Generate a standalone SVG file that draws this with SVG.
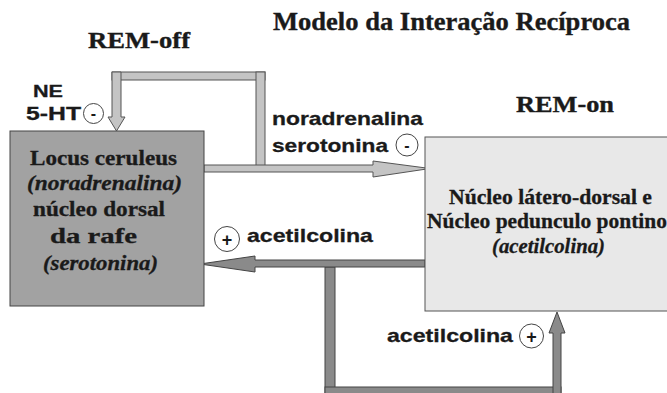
<svg xmlns="http://www.w3.org/2000/svg" width="667" height="393" viewBox="0 0 667 393">
<style>
.circ{fill:#fff;stroke:#444;stroke-width:1}
.lt{fill:#c4c4c4;stroke:#555;stroke-width:1}
.dk{fill:#8a8a8a;stroke:#444;stroke-width:1}
</style>
<rect width="667" height="393" fill="#fff"/>
<g font-family="Liberation Serif, Times New Roman, serif" font-weight="700" fill="#1a1a1a" stroke="#1a1a1a" stroke-width="0.35">
<text x="273" y="30" font-size="25" textLength="357" lengthAdjust="spacingAndGlyphs">Modelo da Interação Recíproca</text>
<text x="88" y="48" font-size="23" textLength="102" lengthAdjust="spacingAndGlyphs">REM-off</text>
<text x="516" y="112" font-size="23" textLength="98" lengthAdjust="spacingAndGlyphs">REM-on</text>
</g>
<g id="connectors">
<rect class="lt" x="112" y="72" width="153" height="8"/>
<polygon class="lt" points="112,72 121,72 121,117 125,117 116.5,131 108,117 112,117"/>
<rect class="lt" x="256" y="72" width="9" height="94"/>
<polygon class="lt" points="204,165 373,165 373,161 430,168.5 373,177 373,172 204,172"/>
<rect class="dk" x="325" y="267" width="10" height="130"/>
<rect class="dk" x="325" y="387" width="236" height="10"/>
<polygon class="dk" points="553,397 553,333 549,333 557,312 565,333 561,333 561,397"/>
<polygon class="dk" points="425,260 255,260 255,256 200,264 255,272 255,267 425,267"/>
</g>
<g id="remoff" font-family="Liberation Serif, Times New Roman, serif" font-weight="700" font-size="20" fill="#1a1a1a">
<rect x="10" y="131" width="194" height="175" fill="#a2a2a2" stroke="#444" stroke-width="1"/>
<g stroke="#1a1a1a" stroke-width="0.3">
<text x="30" y="165" textLength="147" lengthAdjust="spacingAndGlyphs">Locus ceruleus</text>
<text x="27" y="190" font-style="italic" textLength="155" lengthAdjust="spacingAndGlyphs">(noradrenalina)</text>
<text x="33" y="216" textLength="132" lengthAdjust="spacingAndGlyphs">núcleo dorsal</text>
<text x="50" y="243" textLength="87" lengthAdjust="spacingAndGlyphs">da rafe</text>
<text x="43" y="270" font-style="italic" textLength="115" lengthAdjust="spacingAndGlyphs">(serotonina)</text>
</g>
</g>
<g id="remon" font-family="Liberation Serif, Times New Roman, serif" font-weight="700" font-size="20" fill="#1a1a1a">
<rect x="425" y="137" width="250" height="174" fill="#e8e8e8" stroke="#555" stroke-width="1"/>
<g stroke="#1a1a1a" stroke-width="0.3">
<text x="449" y="204" textLength="203" lengthAdjust="spacingAndGlyphs">Núcleo látero-dorsal e</text>
<text x="427" y="228" textLength="240" lengthAdjust="spacingAndGlyphs">Núcleo pedunculo pontino</text>
<text x="492" y="253" font-style="italic" textLength="113" lengthAdjust="spacingAndGlyphs">(acetilcolina)</text>
</g>
</g>
<g font-family="Liberation Sans, Arial, sans-serif" font-weight="700" font-size="19" fill="#1a1a1a">
<g id="label-ne">
<text x="33" y="97" font-size="16" stroke="#1a1a1a" stroke-width="0.3" textLength="30" lengthAdjust="spacingAndGlyphs">NE</text>
<text x="26" y="120" font-size="18" stroke="#1a1a1a" stroke-width="0.3" textLength="55" lengthAdjust="spacingAndGlyphs">5-HT</text>
<circle class="circ" cx="93.5" cy="113.5" r="10"/>
<text x="93.5" y="119" font-size="16" text-anchor="middle">-</text>
</g>
<g id="label-noradr">
<text x="272" y="125" stroke="#1a1a1a" stroke-width="0.3" textLength="151" lengthAdjust="spacingAndGlyphs">noradrenalina</text>
<text x="272" y="152" stroke="#1a1a1a" stroke-width="0.3" textLength="116" lengthAdjust="spacingAndGlyphs">serotonina</text>
<circle class="circ" cx="407" cy="145" r="11"/>
<text x="407" y="151" font-size="16" text-anchor="middle">-</text>
</g>
<g id="label-ach1">
<circle class="circ" cx="227" cy="239" r="12.5"/>
<text x="227" y="245.5" font-size="18" text-anchor="middle">+</text>
<text x="247" y="242" stroke="#1a1a1a" stroke-width="0.3" textLength="126" lengthAdjust="spacingAndGlyphs">acetilcolina</text>
</g>
<g id="label-ach2">
<text x="387" y="342" stroke="#1a1a1a" stroke-width="0.3" textLength="126" lengthAdjust="spacingAndGlyphs">acetilcolina</text>
<circle class="circ" cx="531.5" cy="336" r="12"/>
<text x="531.5" y="342.5" font-size="18" text-anchor="middle">+</text>
</g>
</g>
</svg>
